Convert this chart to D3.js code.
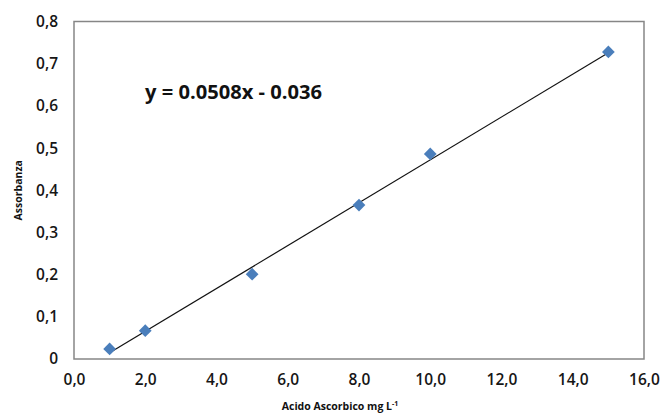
<!DOCTYPE html>
<html><head><meta charset="utf-8">
<script src="https://cdn.jsdelivr.net/npm/d3@7"></script>
<style>body{margin:0;background:#fff}svg{display:block}</style>
</head><body>
<script>
const concentrations = [1, 2, 5, 8, 10, 15];
const absorbances = [0.024, 0.067, 0.201, 0.365, 0.486, 0.728];
const xTicks = [0, 2, 4, 6, 8, 10, 12, 14, 16];
const yTicks = [0, 0.1, 0.2, 0.3, 0.4, 0.5, 0.6, 0.7, 0.8];
const slope = 0.0508, intercept = -0.036;
const equationLabel = "y = 0.0508x - 0.036";

const W = 664, H = 414;
const m = {left: 74, right: 20, top: 21.5, bottom: 55};
const svg = d3.select("body").append("svg").attr("width", W).attr("height", H);
const x = d3.scaleLinear().domain([0, 16]).range([m.left, W - m.right]);
const y = d3.scaleLinear().domain([0, 0.8]).range([H - m.bottom, m.top]);
const font = "'Open Sans', sans-serif";
const fmt1 = d => d === 0 ? "0" : d3.format(".1f")(d).replace(".", ",");

svg.append("rect").attr("x", x(0)).attr("y", y(0.8))
  .attr("width", x(16) - x(0)).attr("height", y(0) - y(0.8))
  .attr("fill", "none").attr("stroke", "#868686").attr("stroke-width", 1.5);

const yAxis = svg.append("g").attr("transform", `translate(${x(0)},0)`)
  .call(d3.axisLeft(y).tickValues(yTicks).tickFormat(fmt1).tickSize(0).tickPadding(16));
const xAxis = svg.append("g").attr("transform", `translate(0,${y(0)})`)
  .call(d3.axisBottom(x).tickValues(xTicks).tickFormat(d => d3.format(".1f")(d).replace(".", ",")).tickSize(0).tickPadding(15));
[yAxis, xAxis].forEach(a => {
  a.select(".domain").remove();
  a.selectAll("text").attr("font-family", font).attr("font-size", 15.5).attr("fill", "#161616").attr("font-weight", 600);
});

// trendline
const x0 = d3.min(concentrations), x1 = d3.max(concentrations);
svg.append("line").attr("x1", x(x0)).attr("y1", y(slope * x0 + intercept))
  .attr("x2", x(x1)).attr("y2", y(slope * x1 + intercept))
  .attr("stroke", "#111").attr("stroke-width", 1.2);

// points
svg.selectAll("rect.pt").data(concentrations).join("rect").attr("class", "pt")
  .attr("x", -4.5).attr("y", -4.5).attr("width", 9).attr("height", 9)
  .attr("fill", "#4a7ebb")
  .attr("transform", (d, i) => `translate(${x(d)},${y(absorbances[i])}) rotate(45)`);

svg.append("text").attr("x", 145).attr("y", 99).attr("font-family", font)
  .attr("font-size", 19.5).attr("font-weight", "bold").attr("fill", "#111")
  .attr("textLength", 177).attr("lengthAdjust", "spacingAndGlyphs").text(equationLabel);

const xt = svg.append("text").attr("x", 340).attr("y", 410).attr("text-anchor", "middle")
  .attr("font-family", font).attr("font-size", 10.5).attr("font-weight", "bold").attr("fill", "#111");
xt.append("tspan").text("Acido Ascorbico  mg L");
xt.append("tspan").attr("font-size", 7).attr("dy", -4).text("-1");

svg.append("text").attr("transform", `translate(22,${(y(0)+y(0.8))/2}) rotate(-90)`)
  .attr("text-anchor", "middle").attr("font-family", font).attr("font-size", 10.5)
  .attr("font-weight", "bold").attr("fill", "#111").text("Assorbanza");
</script>
</body></html>
